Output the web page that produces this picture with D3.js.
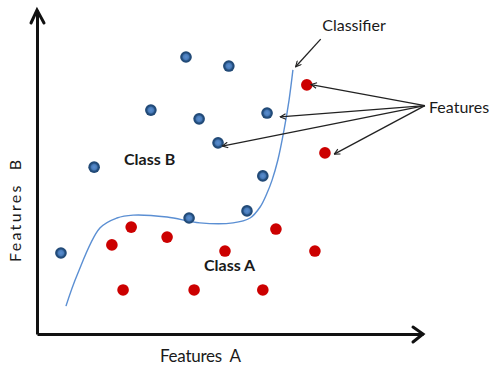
<!DOCTYPE html>
<html>
<head>
<meta charset="utf-8">
<script src="https://cdn.jsdelivr.net/npm/d3@7"></script>
<style>
  body { margin: 0; background: #fff; }
  svg text { font-family: Lato, "Open Sans", sans-serif; fill: #1a1a1a; }
</style>
</head>
<body>
<div id="chart"></div>
<script>
// Class B points (blue), feature A / feature B on a 0-100 scale
const classBx = [38.6, 49.7, 29.5, 42.0, 59.6, 46.9, 14.8, 58.5, 39.4, 54.4, 6.2];
const classBy = [85.5, 82.7, 69.1, 66.4, 68.2, 59.0, 51.5, 48.8, 35.8, 38.0, 25.0];

// Class A points (red)
const classAx = [69.9, 74.6, 19.4, 24.4, 33.7, 48.7, 22.3, 40.7, 61.9, 72.0, 58.5];
const classAy = [76.9, 55.9, 27.5, 33.0, 29.9, 25.6, 13.6, 13.6, 32.4, 25.6, 13.6];

// Classifier boundary
const boundaryX = [7.5, 10.4, 16.3, 20.7, 24.9, 33.7, 42.2, 50.8, 55.2, 57.8, 59.6, 60.9, 62.4, 64.0, 65.3, 66.3];
const boundaryY = [8.6, 18.2, 32.7, 35.8, 36.7, 36.1, 34.3, 34.3, 35.8, 39.2, 43.5, 47.5, 53.7, 63.0, 72.2, 81.5];

// points the "Features" label points at: [x, y]
const featureTargets = [[71.0, 77.0], [63.0, 67.0], [77.0, 55.5], [48.0, 58.0]];
const featureLabelAt = [100.5, 70.5];
const classifierLabelAt = [73.5, 91.0];
const classifierTarget = [67.0, 82.5];

const width = 491, height = 365;
const x0 = 37, x1 = 423, yTop = 10, yBase = 334;

const x = d3.scaleLinear().domain([0, 100]).range([x0, x1]);
const y = d3.scaleLinear().domain([0, 100]).range([yBase, yTop]);

const svg = d3.select('#chart').append('svg')
  .attr('width', width)
  .attr('height', height);

const defs = svg.append('defs');
defs.append('marker')
  .attr('id', 'thin-arrow')
  .attr('viewBox', '0 0 10 10')
  .attr('refX', 9).attr('refY', 5)
  .attr('markerWidth', 7).attr('markerHeight', 7)
  .attr('markerUnits', 'userSpaceOnUse')
  .attr('orient', 'auto')
  .append('path')
  .attr('d', 'M1,1 L9,5 L1,9')
  .attr('fill', 'none')
  .attr('stroke', '#222')
  .attr('stroke-width', 1.6);

const blueGrad = defs.append('radialGradient').attr('id', 'blue-dot');
blueGrad.append('stop').attr('offset', '0%').attr('stop-color', '#5a8fd0');
blueGrad.append('stop').attr('offset', '45%').attr('stop-color', '#4a7cbb');
blueGrad.append('stop').attr('offset', '70%').attr('stop-color', '#234e7e');
blueGrad.append('stop').attr('offset', '100%').attr('stop-color', '#1d4470');

// axes, no ticks, only the domain line
svg.append('g')
  .attr('transform', `translate(0,${yBase})`)
  .call(d3.axisBottom(x).ticks(0).tickSizeOuter(0))
  .call(g => g.select('.domain').attr('stroke', '#111').attr('stroke-width', 3));

svg.append('g')
  .attr('transform', `translate(${x0},0)`)
  .call(d3.axisLeft(y).ticks(0).tickSizeOuter(0))
  .call(g => g.select('.domain').attr('stroke', '#111').attr('stroke-width', 3));

// open arrowheads at the axis ends
svg.append('path')
  .attr('d', `M${x1 - 10},${yBase - 7} L${x1},${yBase} L${x1 - 10},${yBase + 8}`)
  .attr('fill', 'none').attr('stroke', '#111').attr('stroke-width', 3)
  .attr('stroke-linecap', 'round');
svg.append('path')
  .attr('d', `M${x0 - 6},${yTop + 13} L${x0},${yTop} L${x0 + 7},${yTop + 13}`)
  .attr('fill', 'none').attr('stroke', '#111').attr('stroke-width', 3)
  .attr('stroke-linecap', 'round');

// classifier curve
const line = d3.line()
  .x(d => x(d[0]))
  .y(d => y(d[1]))
  .curve(d3.curveCatmullRom.alpha(0.5));

svg.append('path')
  .datum(d3.zip(boundaryX, boundaryY))
  .attr('d', line)
  .attr('fill', 'none')
  .attr('stroke', '#5b8fd3')
  .attr('stroke-width', 1.4);

// dots
svg.append('g')
  .selectAll('circle')
  .data(d3.zip(classBx, classBy))
  .join('circle')
  .attr('cx', d => x(d[0]))
  .attr('cy', d => y(d[1]))
  .attr('r', 5.8)
  .attr('fill', 'url(#blue-dot)');

svg.append('g')
  .selectAll('circle')
  .data(d3.zip(classAx, classAy))
  .join('circle')
  .attr('cx', d => x(d[0]))
  .attr('cy', d => y(d[1]))
  .attr('r', 5.8)
  .attr('fill', '#cc0000');

// pointer arrows
svg.append('g')
  .selectAll('line')
  .data(featureTargets)
  .join('line')
  .attr('x1', x(featureLabelAt[0]))
  .attr('y1', y(featureLabelAt[1]))
  .attr('x2', d => x(d[0]))
  .attr('y2', d => y(d[1]))
  .attr('stroke', '#222')
  .attr('stroke-width', 1.3)
  .attr('marker-end', 'url(#thin-arrow)');

svg.append('line')
  .attr('x1', x(classifierLabelAt[0]))
  .attr('y1', y(classifierLabelAt[1]))
  .attr('x2', x(classifierTarget[0]))
  .attr('y2', y(classifierTarget[1]))
  .attr('stroke', '#222')
  .attr('stroke-width', 1.3)
  .attr('marker-end', 'url(#thin-arrow)');

// labels
svg.append('text')
  .attr('x', 354).attr('y', 31)
  .attr('text-anchor', 'middle')
  .style('font-size', '16px')
  .text('Classifier');

svg.append('text')
  .attr('x', 429).attr('y', 113)
  .style('font-size', '16px')
  .text('Features');

svg.append('text')
  .attr('x', 124).attr('y', 165)
  .style('font-size', '16px')
  .style('font-weight', 'bold')
  .text('Class B');

svg.append('text')
  .attr('x', 204).attr('y', 271)
  .style('font-size', '16px')
  .style('font-weight', 'bold')
  .text('Class A');

svg.append('text')
  .attr('x', 160).attr('y', 362)
  .attr('textLength', 81)
  .attr('lengthAdjust', 'spacing')
  .style('font-size', '17px')
  .style('white-space', 'pre')
  .text('Features  A');

svg.append('text')
  .attr('transform', 'translate(21,262) rotate(-90)')
  .attr('textLength', 102)
  .attr('lengthAdjust', 'spacing')
  .style('font-size', '16px')
  .style('white-space', 'pre')
  .text('Features  B');
</script>
</body>
</html>
